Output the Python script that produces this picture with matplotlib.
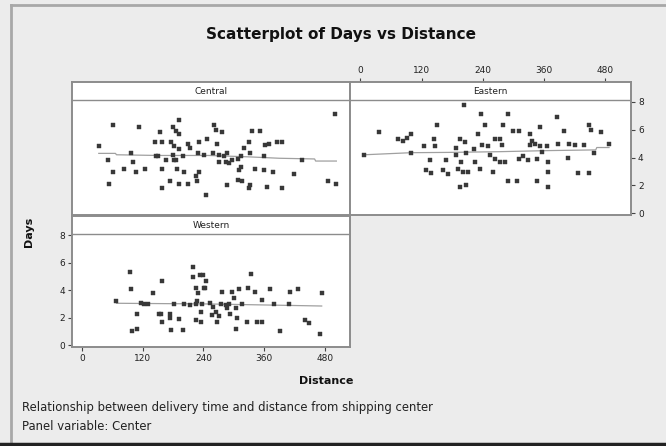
import numpy as np
import matplotlib
matplotlib.use("Agg")
import matplotlib.pyplot as plt
from matplotlib.lines import Line2D

# ---- data (Distance, Days) ----
central_dist = [33, 61, 112, 155, 179, 191, 186, 191, 51, 61, 82, 97, 100, 106, 125, 54,
                145, 158, 176, 182, 192, 209, 213, 232, 248, 261, 264, 277, 266, 230, 146,
                165, 179, 182, 187, 199, 159, 202, 225, 232, 173, 191, 209, 228, 158, 245,
                258, 271, 271, 281, 287, 297, 309, 314, 320, 330, 333, 337, 351, 310, 314,
                308, 317, 287, 333, 331, 342, 359, 378, 359, 361, 369, 386, 396, 366, 396,
                420, 435, 500, 487, 503, 284, 241, 186, 150, 291]
central_days = [4.8, 6.3, 6.2, 5.8, 6.2, 6.7, 5.9, 5.7, 3.8, 3.0, 3.2, 4.3, 3.7, 3.0, 3.2, 2.1,
                5.1, 5.1, 5.1, 4.8, 4.6, 5.0, 4.7, 5.1, 5.3, 6.3, 6.0, 5.8, 5.0, 4.3, 4.1,
                3.8, 4.2, 3.8, 3.2, 4.1, 3.2, 3.0, 2.7, 3.0, 2.3, 2.1, 2.1, 2.3, 1.8, 1.3,
                4.3, 4.2, 3.7, 4.1, 4.3, 3.8, 3.9, 4.1, 4.7, 5.1, 4.3, 5.9, 5.9, 3.1, 3.3,
                2.4, 2.3, 2.0, 2.0, 1.8, 3.2, 3.1, 3.0, 4.1, 4.9, 5.0, 5.1, 5.1, 1.9, 1.8,
                2.8, 3.8, 7.1, 2.3, 2.1, 3.7, 4.2, 3.8, 4.1, 3.6]

eastern_dist = [8, 37, 73, 83, 92, 100, 100, 125, 136, 129, 139, 144, 146, 151, 167, 162,
                172, 188, 188, 195, 205, 203, 192, 198, 201, 208, 211, 195, 208, 223, 224,
                230, 234, 237, 239, 245, 260, 264, 274, 277, 254, 264, 274, 283, 280, 289,
                290, 306, 300, 310, 310, 319, 329, 333, 336, 342, 346, 352, 352, 356, 365,
                367, 367, 367, 385, 388, 398, 408, 407, 421, 438, 426, 447, 451, 447, 457,
                472, 487, 346, 333, 251]
eastern_days = [4.2, 5.8, 5.3, 5.2, 5.4, 5.7, 4.3, 4.8, 3.8, 3.1, 2.9, 5.3, 4.8, 6.3, 3.8, 3.1,
                2.8, 4.7, 4.2, 5.3, 5.1, 7.8, 3.2, 3.7, 3.0, 4.3, 3.0, 1.9, 2.0, 4.6, 3.7,
                5.7, 3.2, 7.1, 4.9, 6.3, 3.0, 5.3, 5.3, 4.9, 4.2, 3.9, 3.7, 3.7, 6.3, 7.1,
                2.3, 2.3, 5.9, 5.9, 3.9, 4.1, 3.8, 5.7, 5.2, 5.0, 2.3, 6.2, 4.8, 4.4, 4.8,
                3.7, 3.0, 1.9, 6.9, 5.0, 5.9, 5.0, 4.0, 4.9, 4.9, 2.9, 6.3, 6.0, 2.9, 4.3,
                5.8, 5.0, 3.9, 4.9, 4.8]

western_dist = [68, 94, 97, 99, 108, 108, 117, 123, 130, 140, 152, 156, 158, 159, 173, 174,
                176, 182, 191, 200, 202, 213, 220, 220, 225, 226, 228, 230, 233, 235, 226,
                235, 239, 241, 245, 243, 253, 256, 264, 266, 271, 274, 277, 284, 291, 292,
                297, 304, 304, 307, 310, 317, 327, 329, 335, 343, 346, 356, 356, 371, 379,
                392, 412, 410, 428, 441, 449, 474, 471, 300, 287, 258, 237]
western_days = [3.2, 5.3, 4.1, 1.0, 1.2, 2.3, 3.1, 3.0, 3.0, 3.8, 2.3, 2.3, 1.7, 4.7, 2.3, 2.0,
                1.1, 3.0, 1.9, 1.1, 3.0, 2.95, 5.7, 5.0, 4.2, 3.0, 3.2, 3.8, 5.1, 2.4, 1.8,
                1.7, 5.1, 4.2, 4.7, 4.2, 3.1, 2.2, 2.4, 1.7, 2.1, 3.0, 3.9, 2.9, 3.0, 2.3,
                3.9, 2.7, 1.2, 2.0, 4.1, 3.0, 1.7, 4.2, 5.2, 3.9, 1.7, 1.7, 3.3, 4.1, 3.0,
                1.0, 3.9, 3.0, 4.1, 1.8, 1.6, 3.8, 0.8, 3.4, 2.7, 2.8, 3.0]

# smoother lines (as drawn in the reference)
central_fit_x = [33, 66, 68, 150, 250, 330, 390, 460, 462, 503]
central_fit_y = [4.3, 4.3, 4.2, 4.15, 4.15, 4.05, 3.95, 3.9, 3.75, 3.75]
eastern_fit_x = [8, 100, 172, 270, 369, 461, 463, 487]
eastern_fit_y = [4.2, 4.35, 4.37, 4.42, 4.5, 4.55, 4.72, 4.72]
western_fit_x = [68, 250, 400, 474]
western_fit_y = [3.05, 3.0, 2.9, 2.85]

x_ticks = [0, 120, 240, 360, 480]
y_ticks = [0, 2, 4, 6, 8]

BG = "#ececec"
EDGE = "#8c8c8c"
PT = "#383838"
STRIP_TOP = 8.1

plt.rcParams["font.family"] = "DejaVu Sans"

fig = plt.figure(figsize=(6.66, 4.46), dpi=100, facecolor=BG)
W, H = 666.0, 446.0


def box(x0, y_top, x1, y_bot):
    return [x0 / W, 1 - y_bot / H, (x1 - x0) / W, (y_bot - y_top) / H]


panels = [
    ("Central", box(72, 82, 350, 215), central_dist, central_days, central_fit_x, central_fit_y),
    ("Eastern", box(350, 82, 631, 215), eastern_dist, eastern_days, eastern_fit_x, eastern_fit_y),
    ("Western", box(72, 216, 350, 346.7), western_dist, western_days, western_fit_x, western_fit_y),
]

axes = {}
for name, rect, xs, ys, fx, fy in panels:
    ax = fig.add_axes(rect)
    ax.set_facecolor("white")
    ax.plot(fx, fy, color="#a0a0a0", lw=0.9, zorder=2)
    ax.plot(xs, ys, ls="none", marker="s", ms=2.9, color=PT, mec=PT, mew=0.3, zorder=3)
    ax.set_xlim(-20, 530)
    ax.set_ylim(-0.12, 9.42)
    ax.axhline(STRIP_TOP, color=EDGE, lw=1.0, zorder=4)
    ax.text(0.5, (STRIP_TOP + 9.42) / 2, name, transform=ax.get_yaxis_transform(),
            ha="center", va="center", fontsize=6.5, color="#222222")
    for s in ax.spines.values():
        s.set_color(EDGE)
        s.set_linewidth(1.4)
    ax.tick_params(colors="#444444", labelcolor="#222222", labelsize=6.5,
                   length=3, width=0.8, direction="out", pad=2)
    ax.set_xticks(x_ticks)
    ax.set_yticks(y_ticks)
    axes[name] = ax

# Central: no tick marks
axes["Central"].tick_params(left=False, bottom=False, labelleft=False, labelbottom=False)

# Eastern: ticks on top and right
ea = axes["Eastern"]
ea.tick_params(left=False, bottom=False, labelleft=False, labelbottom=False,
               top=True, right=True, labeltop=True, labelright=True)

# Western: ticks on left and bottom
wa = axes["Western"]
wa.tick_params(left=True, bottom=True, labelleft=True, labelbottom=True)

fig.text(341 / W, 1 - 35 / H, "Scatterplot of Days vs Distance", ha="center", va="center",
         fontsize=11, fontweight="bold", color="#111111")
fig.text(326 / W, 1 - 381 / H, "Distance", ha="center", va="center",
         fontsize=8, fontweight="bold", color="#111111")
fig.text(29 / W, 1 - 232 / H, "Days", ha="center", va="center", rotation=90,
         fontsize=8, fontweight="bold", color="#111111")
fig.text(22 / W, 1 - 408 / H, "Relationship between delivery time and distance from shipping center",
         ha="left", va="center", fontsize=8.4, color="#222222")
fig.text(22 / W, 1 - 427 / H, "Panel variable: Center",
         ha="left", va="center", fontsize=8.4, color="#222222")

# outer frame of the graph window
fig.add_artist(Line2D([11 / W, 11 / W], [1 - 5 / H, 1 - 443 / H], color="#a8a8a8", lw=2))
fig.add_artist(Line2D([11 / W, 1], [1 - 5 / H, 1 - 5 / H], color="#a8a8a8", lw=2))
fig.add_artist(Line2D([0, 1], [1 - 444 / H, 1 - 444 / H], color="#222222", lw=2.5))

fig.savefig("out.png", dpi=100, facecolor=BG)
